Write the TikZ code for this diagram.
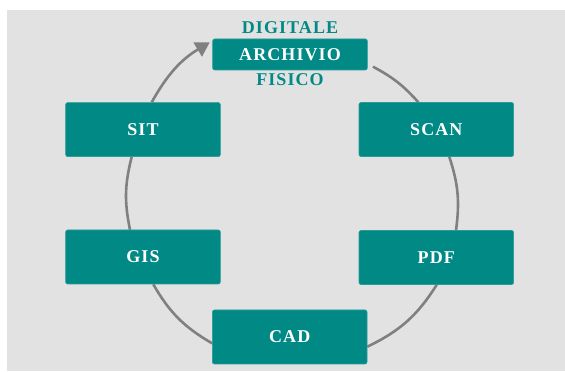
\documentclass[tikz,border=0pt]{standalone}
\usepackage{fontspec}
\setmainfont{Liberation Serif}[LetterSpace=6]
\usetikzlibrary{arrows.meta,backgrounds}
\definecolor{petrol}{RGB}{0,137,133}
\definecolor{sfondo}{RGB}{226,226,226}
\definecolor{anello}{RGB}{128,128,128}
\begin{document}
\begin{tikzpicture}[x=1pt,y=1pt,
  box/.style={rectangle,rounded corners=2pt,fill=petrol,draw=petrol!85!white,line width=0.6pt,
    text=white,minimum width=154.6pt,minimum height=54pt,inner sep=0pt,
    font=\fontsize{18}{20}\selectfont\bfseries},
  etichetta/.style={text=petrol,inner sep=0pt,font=\fontsize{18}{20}\selectfont\bfseries},
  ciclo/.style={draw=anello,line width=2.6pt}]
\useasboundingbox(0,0)rectangle(565,372);
\node[box,minimum height=31pt](ARC)at(290,317.5){ARCHIVIO};
\node[box](SIT)at(143,242.4){SIT};\node[box](SCAN)at(436.3,242.5){SCAN};
\node[box](GIS)at(143,115){GIS};\node[box](PDF)at(436.3,114.5){PDF};
\node[box](CAD)at(289.7,35){CAD};
\node[etichetta](DIG)at(290,344){DIGITALE};
\node[etichetta](FIS)at(290,292.3){FISICO};
\begin{scope}[on background layer]
\fill[sfondo](7,1)rectangle(565,362);
\draw[ciclo]([shift={(5.4,-12.2)}]ARC.east)to[bend left=10]([xshift=-18pt]SCAN.north);
\draw[ciclo]([xshift=13pt]SCAN.south)to[bend left=13]([xshift=19.7pt]PDF.north);
\draw[ciclo]([xshift=0.4pt]PDF.south)to[bend left=16]([yshift=-9.7pt]CAD.east);
\draw[ciclo]([yshift=-6.3pt]CAD.west)to[bend left=15]([xshift=10.3pt]GIS.south);
\draw[ciclo]([xshift=-13pt]GIS.north)to[bend left=13]([xshift=-11.3pt]SIT.south);
\draw[ciclo,-{Triangle[length=14pt,width=16pt]}]([xshift=8.7pt]SIT.north)
  to[bend left=15]([shift={(-2.7,-3.7)}]ARC.north west);
\end{scope}
\end{tikzpicture}
\end{document}
